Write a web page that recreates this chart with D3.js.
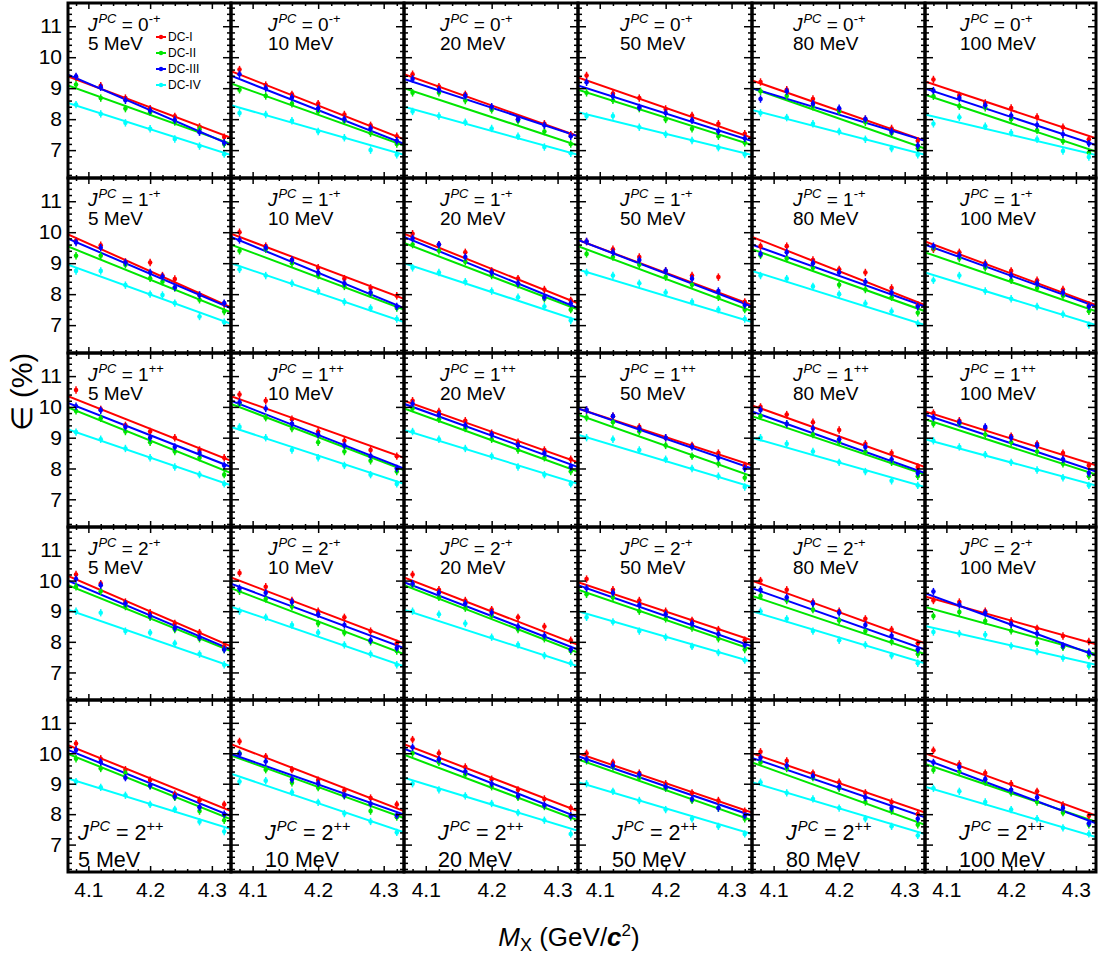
<!DOCTYPE html>
<html><head><meta charset="utf-8">
<script src="https://cdn.jsdelivr.net/npm/d3@7"></script>
<style>
body{margin:0;background:#fff}
svg{display:block}
text{font-family:"Liberation Sans",Arial,Helvetica,sans-serif;fill:#000}
</style>
</head><body>
<svg id="c" width="1104" height="956"></svg>
<script>
// ---------- data ----------
const masses = [4.08, 4.12, 4.16, 4.20, 4.24, 4.28, 4.32];
const xTicks = [4.1, 4.2, 4.3];
const yTicks = [7, 8, 9, 10, 11];
const jpcBase = ["0", "1", "1", "2", "2"];
const jpcSup = ["-+", "-+", "++", "-+", "++"];
const widthLabels = ["5 MeV", "10 MeV", "20 MeV", "50 MeV", "80 MeV", "100 MeV"];
const seriesNames = ["DC-I", "DC-II", "DC-III", "DC-IV"];
const seriesColors = ["#ff0000", "#00e600", "#0000ff", "#00ffff"];
const errBar = [0.12, 0.12, 0.12, 0.12];

// efficiency points [row][col][mass]
const effDC1 = [
 [[9.35,9.08,8.68,8.34,8.09,7.75,7.42],[9.6,9.1,8.8,8.5,8.15,7.8,7.45],[9.45,9.05,8.8,8.35,8.0,7.85,7.5],[9.41,8.83,8.68,8.33,8.12,7.85,7.53],[9.2,8.95,8.65,8.3,8.0,7.7,7.3],[9.28,8.77,8.52,8.36,8.07,7.74,7.35]],
 [[9.72,9.58,9.04,9.02,8.49,7.97,7.68],[10.0,9.55,9.1,8.85,8.5,8.2,7.95],[9.95,9.6,9.35,8.75,8.5,8.15,7.8],[9.7,9.45,9.2,8.75,8.6,8.55,7.75],[9.55,9.55,9.1,8.8,8.7,8.2,7.65],[9.45,9.35,9.0,8.75,8.45,8.15,7.65]],
 [[10.55,9.92,9.4,9.2,9.0,8.6,8.35],[10.4,10.2,9.6,9.2,8.9,8.6,8.4],[10.2,9.85,9.55,9.15,8.85,8.6,8.3],[9.9,9.7,9.35,9.0,8.75,8.5,8.1],[10.0,9.75,9.5,9.25,8.8,8.5,8.05],[9.8,9.55,9.3,9.05,8.8,8.5,8.1]],
 [[10.2,9.9,9.3,8.95,8.6,8.3,7.85],[10.25,9.8,9.35,9.0,8.8,8.35,7.95],[10.2,9.7,9.35,9.05,8.8,8.5,8.05],[10.05,9.7,9.35,9.0,8.7,8.4,8.05],[10.0,9.7,9.3,9.0,8.75,8.4,7.95],[9.35,9.30,9.0,8.68,8.44,8.19,8.01]],
 [[10.32,9.82,9.46,9.12,8.66,8.46,8.32],[10.39,9.89,9.46,9.12,8.78,8.53,8.32],[10.45,10.0,9.55,9.15,8.8,8.5,8.2],[10.0,9.7,9.35,9.0,8.7,8.45,8.1],[10.05,9.75,9.35,9.05,8.7,8.4,8.0],[10.1,9.65,9.35,9.0,8.75,8.3,7.95]]
];
const effDC2 = [
 [[9.12,8.68,8.34,8.22,7.91,7.67,7.20],[8.95,8.75,8.5,8.25,7.95,7.55,7.2],[8.85,8.85,8.6,8.3,7.95,7.6,7.2],[8.85,8.61,8.34,7.99,7.69,7.45,7.24],[8.9,8.75,8.4,8.25,7.9,7.55,7.05],[8.74,8.42,8.37,8.0,7.64,7.29,6.92]],
 [[9.24,9.24,8.95,8.51,8.2,7.82,7.44],[9.4,9.45,9.0,8.6,8.25,8.0,7.55],[9.6,9.4,9.05,8.6,8.3,7.85,7.5],[9.3,9.2,8.95,8.55,8.3,7.9,7.5],[9.25,9.15,8.85,8.3,8.15,7.9,7.4],[9.5,9.15,8.85,8.45,8.2,7.95,7.45]],
 [[9.87,9.63,9.2,8.85,8.55,8.35,7.8],[10.1,9.65,9.3,8.85,8.55,8.25,7.9],[9.95,9.6,9.3,8.95,8.6,8.35,7.9],[9.65,9.5,9.2,8.75,8.4,8.15,7.7],[9.7,9.45,9.1,8.85,8.55,8.2,7.75],[9.45,9.45,9.1,8.85,8.55,8.15,7.75]],
 [[9.8,9.65,9.15,8.8,8.4,8.1,7.75],[9.65,9.4,9.15,8.6,8.3,8.0,7.7],[9.85,9.45,9.1,8.85,8.4,8.1,7.7],[9.55,9.45,9.0,8.75,8.45,8.1,7.75],[9.5,9.35,9.05,8.7,8.35,8.0,7.6],[8.84,8.97,8.68,8.36,7.96,7.82,7.55]],
 [[9.82,9.50,9.35,8.93,8.55,8.10,7.80],[10.0,9.46,9.03,8.87,8.6,8.10,7.9],[10.0,9.7,9.3,8.9,8.55,8.25,7.9],[9.75,9.55,9.2,8.85,8.45,8.2,7.85],[9.7,9.5,9.2,8.85,8.4,8.1,7.65],[9.45,9.4,9.05,8.7,8.4,8.05,7.65]]
];
const effDC3 = [
 [[9.38,9.03,8.61,8.28,7.97,7.58,7.24],[9.45,9.0,8.7,8.35,8.0,7.7,7.3],[9.3,8.95,8.75,8.4,8.0,7.8,7.45],[9.19,8.74,8.38,8.20,7.96,7.61,7.38],[8.65,8.9,8.5,8.35,8.0,7.6,7.15],[8.92,8.68,8.45,8.12,7.81,7.51,7.21]],
 [[9.67,9.50,9.02,8.70,8.22,7.97,7.71],[9.75,9.5,9.1,8.7,8.35,8.05,7.6],[9.8,9.6,9.2,8.7,8.35,7.9,7.7],[9.7,9.35,9.1,8.75,8.5,8.1,7.65],[9.3,9.35,9.0,8.7,8.4,8.05,7.6],[9.55,9.25,8.95,8.6,8.35,8.05,7.6]],
 [[10.02,9.89,9.35,9.0,8.7,8.5,8.1],[10.15,9.95,9.45,9.1,8.75,8.4,8.0],[10.1,9.75,9.4,9.1,8.75,8.5,8.05],[9.9,9.7,9.3,9.0,8.7,8.35,8.0],[9.9,9.45,9.3,8.95,8.7,8.3,7.85],[9.65,9.5,9.35,9.0,8.75,8.3,7.85]],
 [[10.05,9.85,9.25,8.85,8.45,8.15,7.75],[9.75,9.6,9.3,8.9,8.55,8.05,7.8],[9.9,9.6,9.25,8.95,8.5,8.2,7.75],[9.75,9.6,9.2,8.9,8.6,8.25,7.9],[9.7,9.45,9.25,8.95,8.55,8.2,7.75],[9.64,9.21,8.94,8.57,8.27,7.87,7.66]],
 [[10.11,9.71,9.20,8.94,8.58,8.23,8.0],[9.98,9.73,9.14,9.01,8.62,8.34,7.96],[10.2,9.8,9.4,9.0,8.6,8.3,7.95],[9.8,9.6,9.3,8.9,8.5,8.2,7.95],[9.85,9.6,9.25,8.9,8.55,8.2,7.85],[9.7,9.55,9.15,8.8,8.55,8.2,7.7]]
];
const effDC4 = [
 [[8.47,8.17,7.88,7.69,7.36,7.13,6.87],[8.2,8.15,7.95,7.6,7.4,7.0,6.85],[8.25,8.1,7.9,7.7,7.45,7.1,6.9],[8.10,8.10,7.74,7.51,7.31,7.08,6.86],[8.2,8.05,7.85,7.6,7.35,7.05,6.85],[7.85,8.06,7.77,7.56,7.35,6.97,6.78]],
 [[8.75,8.75,8.29,8.0,7.71,7.28,7.09],[8.8,8.6,8.35,8.1,7.75,7.55,7.2],[8.85,8.7,8.4,8.1,7.9,7.6,7.15],[8.7,8.6,8.35,8.05,7.75,7.5,7.2],[8.6,8.5,8.25,8.0,7.7,7.45,7.05],[8.45,8.6,8.1,7.85,7.6,7.35,7.0]],
 [[9.18,8.95,8.65,8.35,8.05,7.8,7.5],[9.35,9.0,8.6,8.35,8.1,7.8,7.5],[9.2,8.95,8.65,8.4,8.05,7.8,7.5],[9.0,8.95,8.6,8.3,8.0,7.75,7.4],[9.0,8.8,8.55,8.2,7.9,7.6,7.45],[8.9,8.7,8.45,8.2,7.95,7.7,7.45]],
 [[9.0,8.95,8.35,8.3,7.95,7.6,7.25],[9.0,8.8,8.55,8.3,7.9,7.6,7.25],[9.0,8.9,8.6,8.15,7.9,7.55,7.3],[8.8,8.65,8.35,8.15,7.85,7.65,7.4],[9.0,8.75,8.35,8.05,7.9,7.55,7.3],[8.32,8.27,8.23,7.87,7.68,7.47,7.21]],
 [[9.07,8.88,8.62,8.32,8.16,7.75,7.43],[9.07,9.10,8.72,8.39,8.02,7.76,7.40],[9.0,8.8,8.6,8.35,8.05,7.8,7.35],[9.0,8.75,8.45,8.15,7.85,7.6,7.35],[9.05,8.7,8.5,8.2,7.85,7.6,7.3],[8.85,8.75,8.4,8.15,7.85,7.55,7.35]]
];
// extra mass point (4.22) seen in some panels: [row, col, DC-I, DC-II, DC-III, DC-IV]
const extraMass = 4.22;
const extraPoints = [[1, 0, 8.6, 8.40, 8.56, 7.97]];

// linear fits: value at left and right edge of the mass window [row][col][left,right]
const fitDC1 = [
 [[9.38,7.40],[9.55,7.35],[9.45,7.45],[9.35,7.40],[9.25,7.3],[9.22,7.38]],
 [[9.93,7.57],[9.95,7.85],[9.95,7.7],[9.75,7.65],[9.85,7.65],[9.7,7.65]],
 [[10.35,8.25],[10.35,8.35],[10.2,8.2],[9.95,8.1],[10.05,8.05],[9.85,8.1]],
 [[10.15,7.85],[10.1,7.95],[10.1,7.9],[9.95,8.05],[10.0,7.95],[9.48,7.92]],
 [[10.27,8.10],[10.30,8.10],[10.3,8.1],[10.0,8.05],[10.0,8.05],[10.0,7.95]]
];
const fitDC2 = [
 [[9.09,7.20],[9.15,7.15],[9.0,7.15],[8.95,7.16],[9.0,7.05],[8.79,6.95]],
 [[9.54,7.41],[9.6,7.5],[9.65,7.5],[9.55,7.45],[9.45,7.45],[9.35,7.45]],
 [[9.98,7.85],[10.1,7.95],[9.95,7.9],[9.75,7.75],[9.7,7.8],[9.6,7.8]],
 [[9.85,7.7],[9.75,7.6],[9.85,7.65],[9.7,7.75],[9.5,7.6],[9.14,7.60]],
 [[9.98,7.83],[9.93,7.87],[9.95,7.8],[9.8,7.8],[9.7,7.65],[9.65,7.75]]
];
const fitDC3 = [
 [[9.44,7.16],[9.4,7.2],[9.3,7.45],[9.09,7.29],[9.0,7.3],[8.99,7.16]],
 [[9.79,7.54],[9.85,7.55],[9.85,7.55],[9.75,7.6],[9.6,7.6],[9.6,7.6]],
 [[10.13,8.05],[10.2,8.0],[10.1,8.05],[9.95,8.0],[9.85,7.85],[9.75,7.9]],
 [[10.0,7.75],[9.9,7.8],[9.95,7.75],[9.85,7.85],[9.75,7.75],[9.59,7.55]],
 [[10.11,7.94],[9.98,7.99],[10.15,7.9],[9.9,7.95],[9.85,7.9],[9.8,7.7]]
];
const fitDC4 = [
 [[8.52,6.84],[8.45,6.85],[8.4,6.85],[8.22,6.84],[8.3,6.85],[8.15,6.84]],
 [[8.95,7.04],[9.0,7.1],[9.0,7.15],[8.8,7.1],[8.75,7.0],[8.7,7.0]],
 [[9.27,7.45],[9.35,7.5],[9.25,7.5],[9.1,7.4],[9.0,7.4],[8.95,7.45]],
 [[9.05,7.2],[9.15,7.2],[9.05,7.2],[9.0,7.35],[9.0,7.3],[8.52,7.25]],
 [[9.17,7.51],[9.33,7.40],[9.2,7.45],[9.05,7.35],[9.05,7.35],[8.9,7.25]]
];

// ---------- layout ----------
const colEdges = [68, 231, 404, 578, 752, 925, 1096];
const rowEdges = [3, 178, 353, 527, 700, 872];
const xDomain = [4.067, 4.331];
const yDomain = [6.1, 11.75];
const textOffTop = [20, 37, 36, 42, 41, 35];
const textOffBottom = [10, 34, 34, 34, 34, 34];

const effs = [effDC1, effDC2, effDC3, effDC4];
const fits = [fitDC1, fitDC2, fitDC3, fitDC4];
const svg = d3.select("#c");
const FONT = '"Liberation Sans",Arial,Helvetica,sans-serif';

const xMinor = d3.range(4.08, 4.331, 0.02).map(v => +v.toFixed(3)).filter(v => !xTicks.some(t => Math.abs(t - v) < 1e-6));
const yMinor = d3.range(6.2, 11.75, 0.2).map(v => +v.toFixed(3)).filter(v => !yTicks.some(t => Math.abs(t - v) < 1e-6));

function jpcLabel(g, x0, y0, r, fs) {
  const t = g.append("text").attr("x", x0).attr("y", y0).attr("font-size", fs);
  t.append("tspan").attr("font-style", "italic").text("J");
  t.append("tspan").attr("font-style", "italic").attr("font-size", fs * 0.68).attr("dy", -fs * 0.42).attr("dx", 1).text("PC");
  t.append("tspan").attr("dy", fs * 0.42).text(" = " + jpcBase[r]);
  t.append("tspan").attr("font-size", fs * 0.68).attr("dy", -fs * 0.42).text(jpcSup[r]);
}

for (let r = 0; r < 5; r++) {
  for (let c = 0; c < 6; c++) {
    const x = d3.scaleLinear().domain(xDomain).range([colEdges[c], colEdges[c + 1]]);
    const y = d3.scaleLinear().domain(yDomain).range([rowEdges[r + 1], rowEdges[r]]);
    const g = svg.append("g");
    const clipId = `clip-${r}-${c}`;
    g.append("clipPath").attr("id", clipId).append("rect")
      .attr("x", x.range()[0]).attr("y", y.range()[1])
      .attr("width", x.range()[1] - x.range()[0]).attr("height", y.range()[0] - y.range()[1]);
    const pg = g.append("g").attr("clip-path", `url(#${clipId})`);

    // fitted lines
    for (let s = 0; s < 4; s++) {
      const f = fits[s][r][c];
      pg.append("path")
        .datum([[xDomain[0], f[0]], [xDomain[1], f[1]]])
        .attr("d", d3.line().x(d => x(d[0])).y(d => y(d[1])))
        .attr("stroke", seriesColors[s]).attr("stroke-width", 2).attr("fill", "none");
    }
    // points
    for (let s = 0; s < 4; s++) {
      const pts = masses.map((m, i) => [m, effs[s][r][c][i]]);
      extraPoints.filter(e => e[0] === r && e[1] === c).forEach(e => pts.push([extraMass, e[2 + s]]));
      const col = seriesColors[s];
      pg.selectAll(null).data(pts).enter().append("line")
        .attr("x1", d => x(d[0])).attr("x2", d => x(d[0]))
        .attr("y1", d => y(d[1] - errBar[s])).attr("y2", d => y(d[1] + errBar[s]))
        .attr("stroke", col).attr("stroke-width", 1.5);
      pg.selectAll(null).data(pts).enter().append("circle")
        .attr("cx", d => x(d[0])).attr("cy", d => y(d[1])).attr("r", 2.3).attr("fill", col);
    }

    // ticks (inward, all sides)
    const y0 = y.range()[0], y1 = y.range()[1], x0 = x.range()[0], x1 = x.range()[1];
    const tk = (axis, tr) => {
      const a = g.append("g").attr("transform", tr).call(axis);
      a.select(".domain").remove();
      a.selectAll("line").attr("stroke", "#000").attr("stroke-width", 1.5);
      a.selectAll("text").remove();
    };
    tk(d3.axisBottom(x).tickValues(xTicks).tickSize(-6), `translate(0,${y0})`);
    tk(d3.axisBottom(x).tickValues(xMinor).tickSize(-3), `translate(0,${y0})`);
    tk(d3.axisTop(x).tickValues(xTicks).tickSize(-6), `translate(0,${y1})`);
    tk(d3.axisTop(x).tickValues(xMinor).tickSize(-3), `translate(0,${y1})`);
    tk(d3.axisLeft(y).tickValues(yTicks).tickSize(-8), `translate(${x0},0)`);
    tk(d3.axisLeft(y).tickValues(yMinor).tickSize(-4), `translate(${x0},0)`);
    tk(d3.axisRight(y).tickValues(yTicks).tickSize(-8), `translate(${x1},0)`);
    tk(d3.axisRight(y).tickValues(yMinor).tickSize(-4), `translate(${x1},0)`);

    // frame
    g.append("rect").attr("x", x0).attr("y", y1).attr("width", x1 - x0).attr("height", y0 - y1)
      .attr("fill", "none").attr("stroke", "#000").attr("stroke-width", 3);

    // tick labels
    if (c === 0) {
      const a = g.append("g").attr("transform", `translate(${x0 - 4},0)`)
        .call(d3.axisLeft(y).tickValues(yTicks).tickSize(0).tickPadding(2).tickFormat(d3.format("d")));
      a.select(".domain").remove();
      a.selectAll("text").attr("font-size", 21).attr("font-family", FONT);
    }
    if (r === 4) {
      const a = g.append("g").attr("transform", `translate(0,${y0 + 4})`)
        .call(d3.axisBottom(x).tickValues(xTicks).tickSize(0).tickPadding(6).tickFormat(d3.format(".1f")));
      a.select(".domain").remove();
      a.selectAll("text").attr("font-size", 21).attr("font-family", FONT);
    }

    // panel labels
    if (r < 4) {
      const tx = x0 + textOffTop[c];
      jpcLabel(g, tx, y1 + 28, r, 19);
      g.append("text").attr("x", tx).attr("y", y1 + 47).attr("font-size", 19).text(widthLabels[c]);
    } else {
      const tx = x0 + textOffBottom[c];
      jpcLabel(g, tx, y0 - 32, r, 21.5);
      g.append("text").attr("x", tx).attr("y", y0 - 5).attr("font-size", 21.5).text(widthLabels[c]);
    }

    // legend in first panel
    if (r === 0 && c === 0) {
      const lg = g.append("g");
      seriesNames.forEach((n, i) => {
        const ly = 37 + i * 16;
        lg.append("line").attr("x1", 156).attr("x2", 166).attr("y1", ly).attr("y2", ly)
          .attr("stroke", seriesColors[i]).attr("stroke-width", 2);
        lg.append("circle").attr("cx", 161).attr("cy", ly).attr("r", 2.2).attr("fill", seriesColors[i]);
        lg.append("text").attr("x", 168).attr("y", ly + 4).attr("font-size", 12).text(n);
      });
    }
  }
}

// axis titles
const xt = svg.append("text").attr("x", 569).attr("y", 946).attr("text-anchor", "middle").attr("font-size", 26);
xt.append("tspan").attr("font-style", "italic").text("M");
xt.append("tspan").attr("font-size", 18).attr("dy", 5).text("X");
xt.append("tspan").attr("dy", -5).text(" (GeV/");
xt.append("tspan").attr("font-style", "italic").attr("font-weight", "bold").text("c");
xt.append("tspan").attr("font-size", 17).attr("dy", -10).text("2");
xt.append("tspan").attr("dy", 10).text(")");

svg.append("text").attr("transform", "translate(32,392) rotate(-90)")
  .attr("text-anchor", "middle").attr("font-size", 29).text("∈ (%)");
</script>
</body></html>
